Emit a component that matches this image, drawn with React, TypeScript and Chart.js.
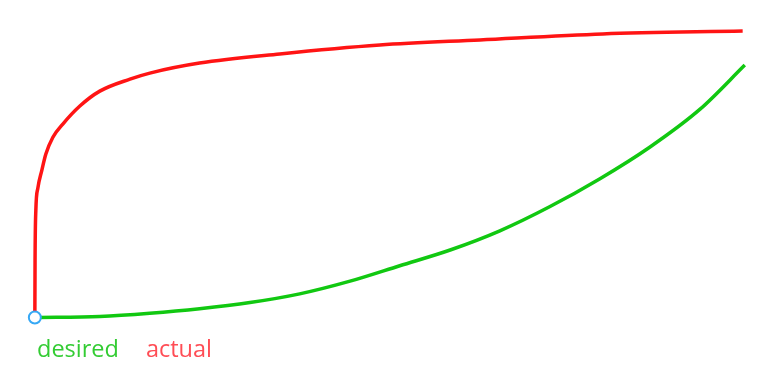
import React, { useEffect, useRef } from "react";
import { Chart, registerables } from "chart.js";

Chart.register(...registerables);

const seriesLabels = ["desired", "actual"];

const desiredX = [0, 9.15, 16.2, 23.2, 30.3, 37.3, 44.4, 51.4, 58.5, 65.5, 72.5, 79.6, 86.6, 93.7, 100];
const desiredY = [0, 0.35, 1.47, 3.05, 5.22, 8.26, 12.7, 18.1, 23.6, 30.3, 38.7, 48.5, 59.5, 72.8, 88.2];

const actualX = [0, 0.03, 0.14, 0.42, 0.99, 1.55, 2.54, 3.94, 6.34, 9.15, 13.4, 16.2, 23.2, 34.5, 48.6, 62.7, 80, 99.7];
const actualY = [0, 20, 37.5, 45.2, 51.5, 57.1, 63, 67.6, 73.9, 79.1, 83.3, 85.4, 88.9, 92.1, 95.2, 97, 99.1, 100.1];

const startX = [0];
const startY = [0];

const lineColors = ["#11c811", "#ff1414"];
const textColors = ["#33cc33", "#ff4d55"];

const toPoints = (xs: number[], ys: number[]) => xs.map((x, i) => ({ x, y: ys[i] }));

export default function App() {
  const ref = useRef<HTMLCanvasElement | null>(null);
  useEffect(() => {
    if (!ref.current) return;
    const chart = new Chart(ref.current, {
      type: "line",
      data: {
        datasets: [
          {
            label: "start",
            data: toPoints(startX, startY),
            showLine: false,
            pointRadius: 6,
            pointBorderWidth: 2,
            pointBorderColor: "#36a8f5",
            pointBackgroundColor: "#ffffff",
            clip: false as any,
          },
          {
            label: seriesLabels[0],
            data: toPoints(desiredX, desiredY),
            borderColor: lineColors[0],
            borderWidth: 3.5,
            pointRadius: 0,
            cubicInterpolationMode: "monotone",
            fill: false,
            clip: false as any,
          },
          {
            label: seriesLabels[1],
            data: toPoints(actualX, actualY),
            borderColor: lineColors[1],
            borderWidth: 3.5,
            pointRadius: 0,
            cubicInterpolationMode: "monotone",
            fill: false,
            clip: false as any,
          },
        ],
      },
      options: {
        animation: false,
        responsive: true,
        maintainAspectRatio: false,
        events: [],
        layout: { padding: { left: 10, right: 25, top: 17, bottom: 5 } },
        scales: {
          x: { type: "linear", min: -3.5, max: 102, display: false },
          y: { type: "linear", min: -2, max: 105, display: false },
        },
        plugins: {
          tooltip: { enabled: false },
          legend: {
            position: "bottom",
            align: "start",
            labels: {
              boxWidth: 0,
              boxHeight: 0,
              padding: 15.25,
              font: { family: "'Open Sans', 'Noto Sans', sans-serif", size: 23.5 },
              generateLabels: () =>
                seriesLabels.map((text, i) => ({
                  text,
                  fontColor: textColors[i],
                  fillStyle: "rgba(0,0,0,0)",
                  strokeStyle: "rgba(0,0,0,0)",
                  lineWidth: 0,
                  hidden: false,
                  datasetIndex: i + 1,
                })),
            },
          },
        },
      },
    });
    return () => chart.destroy();
  }, []);
  return (
    <div style={{ position: "fixed", left: 0, top: 0, width: 784, height: 377, background: "#fff" }}>
      <canvas ref={ref} />
    </div>
  );
}
